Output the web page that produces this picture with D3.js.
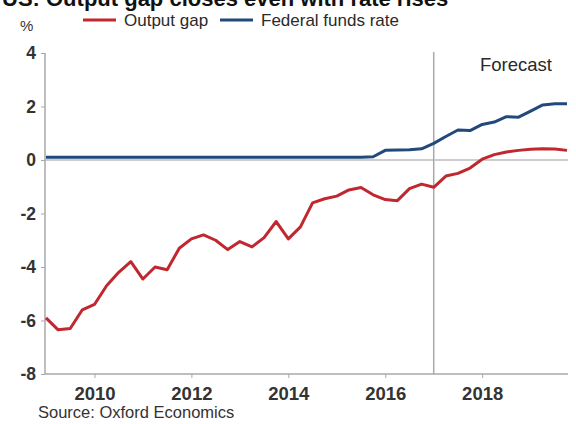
<!DOCTYPE html>
<html>
<head>
<meta charset="utf-8">
<script src="https://cdn.jsdelivr.net/npm/d3@7"></script>
<style>
  html, body { margin: 0; padding: 0; background: #fff; }
  svg { display: block; font-family: "Liberation Sans", Arial, sans-serif; }
</style>
</head>
<body>
<svg id="chart" width="576" height="424"></svg>
<script>
// Quarterly periods, 2009 Q1 to 2019 Q4
const periods = [
  "2009Q1","2009Q2","2009Q3","2009Q4","2010Q1","2010Q2","2010Q3","2010Q4",
  "2011Q1","2011Q2","2011Q3","2011Q4","2012Q1","2012Q2","2012Q3","2012Q4",
  "2013Q1","2013Q2","2013Q3","2013Q4","2014Q1","2014Q2","2014Q3","2014Q4",
  "2015Q1","2015Q2","2015Q3","2015Q4","2016Q1","2016Q2","2016Q3","2016Q4",
  "2017Q1","2017Q2","2017Q3","2017Q4","2018Q1","2018Q2","2018Q3","2018Q4",
  "2019Q1","2019Q2","2019Q3","2019Q4"
];

// Output gap, % of potential GDP
const outputGap = [
  -5.9, -6.35, -6.3, -5.6, -5.4, -4.7, -4.2, -3.8,
  -4.45, -4.0, -4.1, -3.3, -2.95, -2.8, -3.0, -3.35,
  -3.05, -3.25, -2.9, -2.3, -2.95, -2.5, -1.6, -1.45,
  -1.35, -1.12, -1.03, -1.3, -1.48, -1.52, -1.07, -0.9,
  -1.02, -0.6, -0.5, -0.3, 0.03, 0.2, 0.3, 0.36,
  0.4, 0.42, 0.41, 0.36
];

// Federal funds rate, %
const fedFunds = [
  0.1, 0.1, 0.1, 0.1, 0.1, 0.1, 0.1, 0.1,
  0.1, 0.1, 0.1, 0.1, 0.1, 0.1, 0.1, 0.1,
  0.1, 0.1, 0.1, 0.1, 0.1, 0.1, 0.1, 0.1,
  0.1, 0.1, 0.1, 0.12, 0.36, 0.37, 0.38, 0.42,
  0.62, 0.88, 1.12, 1.1, 1.33, 1.42, 1.62, 1.6,
  1.83, 2.06, 2.1, 2.1
];

const yTicks = [4, 2, 0, -2, -4, -6, -8];
const xTicks = [2010, 2012, 2014, 2016, 2018];
const forecastStart = 2017;

const seriesNames = ["Output gap", "Federal funds rate"];
const seriesColors = ["#c0272f", "#214a7a"];

const toYear = p => +p.slice(0, 4) + (+p.slice(5) - 1) / 4;

const svg = d3.select("#chart");
const x = d3.scaleLinear().domain([2009, 2019.75]).range([46, 567]);
const y = d3.scaleLinear().domain([-8, 4]).range([374, 53]);

// Title (runs off the top edge)
svg.append("text")
  .attr("x", 2).attr("y", 6)
  .attr("font-size", 22).attr("font-weight", "bold").attr("fill", "#111")
  .text("US: Output gap closes even with rate rises");

// Unit label
svg.append("text")
  .attr("x", 20).attr("y", 31)
  .attr("font-size", 15).attr("fill", "#333")
  .text("%");

// Legend
const legend = svg.append("g");
const legendItems = [
  { name: seriesNames[0], color: seriesColors[0], x0: 83 },
  { name: seriesNames[1], color: seriesColors[1], x0: 220 }
];
legendItems.forEach(d => {
  legend.append("line")
    .attr("x1", d.x0).attr("x2", d.x0 + 33)
    .attr("y1", 20).attr("y2", 20)
    .attr("stroke", d.color).attr("stroke-width", 3);
  legend.append("text")
    .attr("x", d.x0 + 41).attr("y", 26)
    .attr("font-size", 17).attr("fill", "#2a2a2a")
    .text(d.name);
});

// Zero line
svg.append("line")
  .attr("x1", 45).attr("x2", 568)
  .attr("y1", y(0)).attr("y2", y(0))
  .attr("stroke", "#bdbdbd").attr("stroke-width", 1.5);

// Forecast divider
svg.append("line")
  .attr("x1", x(forecastStart)).attr("x2", x(forecastStart))
  .attr("y1", 52).attr("y2", 374)
  .attr("stroke", "#aaaaaa").attr("stroke-width", 1.5);

svg.append("text")
  .attr("x", 552).attr("y", 71)
  .attr("text-anchor", "end")
  .attr("font-size", 18.5).attr("fill", "#2a2a2a")
  .text("Forecast");

// Y axis
const yAxis = svg.append("g")
  .attr("transform", "translate(45,0)")
  .call(d3.axisLeft(y).tickValues(yTicks).tickSize(4).tickPadding(5).tickFormat(d3.format("d")));
yAxis.select(".domain").attr("stroke", "#a8a8a8").attr("stroke-width", 1.5)
  .attr("d", `M0,${y(4)}V${y(-8)}`);
yAxis.selectAll(".tick line").attr("stroke", "#a8a8a8");
yAxis.selectAll(".tick text")
  .attr("font-size", 17.5).attr("font-weight", "bold").attr("fill", "#333")
  .attr("font-family", "'Liberation Sans', Arial, sans-serif")
  .text(d => d < 0 ? "-" + Math.abs(d) : d);

// X axis
const xAxis = svg.append("g")
  .attr("transform", `translate(0,${y(-8)})`)
  .call(d3.axisBottom(x).tickValues(xTicks).tickSize(4).tickPadding(9).tickFormat(d3.format("d")));
xAxis.select(".domain").attr("stroke", "#a8a8a8").attr("stroke-width", 1.5)
  .attr("d", "M45,0H568");
xAxis.selectAll(".tick line").attr("stroke", "#a8a8a8");
xAxis.selectAll(".tick text")
  .attr("font-size", 18.5).attr("font-weight", "bold").attr("fill", "#333")
  .attr("font-family", "'Liberation Sans', Arial, sans-serif");

// Series lines
const line = d3.line()
  .x((d, i) => x(toYear(periods[i])))
  .y(d => y(d));

svg.append("path")
  .datum(fedFunds)
  .attr("fill", "none")
  .attr("stroke", seriesColors[1])
  .attr("stroke-width", 3)
  .attr("stroke-linejoin", "round")
  .attr("d", line);

svg.append("path")
  .datum(outputGap)
  .attr("fill", "none")
  .attr("stroke", seriesColors[0])
  .attr("stroke-width", 3)
  .attr("stroke-linejoin", "round")
  .attr("d", line);

// Source note
svg.append("text")
  .attr("x", 38).attr("y", 418)
  .attr("font-size", 16.5).attr("fill", "#333")
  .text("Source: Oxford Economics");
</script>
</body>
</html>
